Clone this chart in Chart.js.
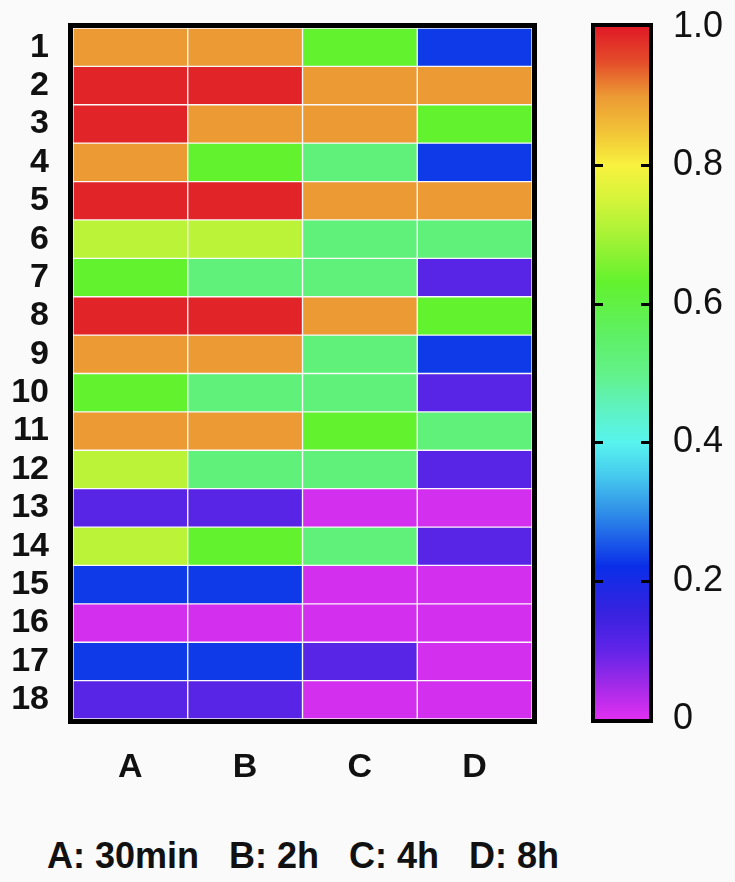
<!DOCTYPE html>
<html>
<head>
<meta charset="utf-8">
<script src="https://cdn.jsdelivr.net/npm/chart.js@4.4.1/dist/chart.umd.min.js"></script>
<style>
  html, body { margin: 0; padding: 0; background: #fafafa; }
  body { width: 735px; height: 882px; position: relative; overflow: hidden; }
  #heat { position: absolute; left: 0; top: 0; }
  #bar  { position: absolute; left: 560px; top: 0; }
  #note {
    position: absolute; left: 47px; top: 836px;
    font: bold 36px "Liberation Sans", Arial, sans-serif; color: #111;
    white-space: pre; line-height: 40px;
  }
</style>
</head>
<body>
<canvas id="heat" width="560" height="800"></canvas>
<canvas id="bar" width="175" height="800"></canvas>
<div id="note">A: 30min   B: 2h   C: 4h   D: 8h</div>

<script>
/* ── Données ─────────────────────────────────────────────────── */
const rowLabels = ['1','2','3','4','5','6','7','8','9','10','11','12','13','14','15','16','17','18'];
const colLabels = ['A', 'B', 'C', 'D'];

// une valeur (0–1) par ligne, pour chaque colonne
const valuesA = [0.90, 0.99, 0.99, 0.90, 0.99, 0.72, 0.63, 0.99, 0.90, 0.63, 0.90, 0.72, 0.11, 0.72, 0.23, 0.01, 0.23, 0.11];
const valuesB = [0.90, 0.99, 0.90, 0.63, 0.99, 0.72, 0.52, 0.99, 0.90, 0.52, 0.90, 0.52, 0.11, 0.63, 0.23, 0.01, 0.23, 0.11];
const valuesC = [0.63, 0.90, 0.90, 0.52, 0.90, 0.52, 0.52, 0.90, 0.52, 0.52, 0.63, 0.52, 0.01, 0.52, 0.01, 0.01, 0.11, 0.01];
const valuesD = [0.23, 0.90, 0.63, 0.23, 0.90, 0.52, 0.11, 0.63, 0.23, 0.11, 0.52, 0.11, 0.01, 0.11, 0.01, 0.01, 0.01, 0.01];

const barTicks = [0, 0.2, 0.4, 0.6, 0.8, 1.0];

/* ── Palette (arc-en-ciel magenta → rouge) ─────────────────────── */
const stopValues = [0, 0.05, 0.1, 0.15, 0.22, 0.3, 0.35, 0.4, 0.45, 0.5, 0.55, 0.63, 0.7, 0.75, 0.8, 0.85, 0.9, 0.95, 1.0];
const stopColors = ['#e030f0', '#a02ae8', '#6024e8', '#3a22e0', '#0a2ee8', '#3090e8', '#45c8ee', '#58f4ee', '#5ff2c0',
                    '#62f288', '#5ef068', '#62f22e', '#a8f236', '#d4f43a', '#f8f23e', '#f2c237', '#ec9a34', '#e44c2a', '#e01a26'];

function hex(c) { return [1, 3, 5].map(i => parseInt(c.slice(i, i + 2), 16)); }
function colorFor(v) {
  for (let i = 1; i < stopValues.length; i++) {
    if (v <= stopValues[i]) {
      const t = (v - stopValues[i - 1]) / (stopValues[i] - stopValues[i - 1]);
      const a = hex(stopColors[i - 1]), b = hex(stopColors[i]);
      const m = a.map((x, k) => Math.round(x + (b[k] - x) * t));
      return `rgb(${m[0]},${m[1]},${m[2]})`;
    }
  }
  return stopColors[stopColors.length - 1];
}

Chart.defaults.font.family = '"Liberation Sans", Arial, sans-serif';
Chart.defaults.color = '#111';
Chart.defaults.animation = false;

/* pas de marge automatique ajoutée par les étiquettes */
const noPad = s => { s.paddingTop = 0; s.paddingBottom = 0; s.paddingLeft = 0; s.paddingRight = 0; };

/* cadre noir épais autour de la zone de tracé */
const frame = {
  id: 'frame',
  afterDatasetsDraw(chart, args, opts) {
    const { ctx, chartArea: a } = chart;
    const w = opts.width || 5;
    ctx.save();
    ctx.strokeStyle = '#000';
    ctx.lineWidth = w;
    ctx.strokeRect(a.left - w / 2, a.top - w / 2, a.width + w, a.height + w);
    ctx.restore();
  },
};

/* ── 1. Carte de chaleur (barres horizontales empilées) ───────── */
const columns = [valuesA, valuesB, valuesC, valuesD];

new Chart(document.getElementById('heat'), {
  type: 'bar',
  data: {
    labels: rowLabels,
    datasets: columns.map((vals, i) => ({
      label: colLabels[i],
      data: vals.map(() => 1),
      backgroundColor: vals.map(colorFor),
      borderColor: 'rgba(255,255,255,0.09)',
      borderWidth: 1,
      borderSkipped: false,
      barPercentage: 1,
      categoryPercentage: 1,
    })),
  },
  options: {
    indexAxis: 'y',
    responsive: false,
    layout: { padding: { top: 28, right: 28, left: 0, bottom: 0 } },
    plugins: { legend: { display: false }, tooltip: { enabled: false }, frame: { width: 5 } },
    scales: {
      x: {
        type: 'linear', stacked: true, min: 0, max: 4,
        grid: { display: false }, border: { display: false },
        afterBuildTicks: s => { s.ticks = colLabels.map((_, i) => ({ value: i + 0.5 })); },
        afterFit: s => { s.height = 81; noPad(s); },
        ticks: {
          padding: 20,
          font: { size: 34, weight: 'bold' },
          callback: v => colLabels[Math.floor(v)],
        },
      },
      y: {
        stacked: true,
        grid: { display: false, drawTicks: false }, border: { display: false },
        afterFit: s => { s.width = 73; noPad(s); },
        ticks: { padding: 24, autoSkip: false, font: { size: 34, weight: 'bold' } },
      },
    },
  },
  plugins: [frame],
});

/* ── 2. Barre de couleurs ─────────────────────────────────────── */
const colorTicks = {
  id: 'colorTicks',
  afterDatasetsDraw(chart) {
    const { ctx, chartArea: a, scales: { y } } = chart;
    ctx.save();
    ctx.strokeStyle = '#000';
    ctx.lineWidth = 3;
    barTicks.slice(1, -1).forEach(v => {
      const py = Math.round(y.getPixelForValue(v)) + 0.5;
      ctx.beginPath();
      ctx.moveTo(a.left, py); ctx.lineTo(a.left + 8, py);
      ctx.moveTo(a.right - 8, py); ctx.lineTo(a.right, py);
      ctx.stroke();
    });
    ctx.restore();
  },
};

new Chart(document.getElementById('bar'), {
  type: 'bar',
  data: {
    labels: [''],
    datasets: [{
      data: [[0, 1]],
      barPercentage: 1,
      categoryPercentage: 1,
      borderWidth: 0,
      backgroundColor: ctx => {
        const { chart } = ctx;
        if (!chart.chartArea) return stopColors[0];
        const y = chart.scales.y;
        const g = chart.ctx.createLinearGradient(0, y.getPixelForValue(0), 0, y.getPixelForValue(1));
        stopValues.forEach((v, i) => g.addColorStop(v, stopColors[i]));
        return g;
      },
    }],
  },
  options: {
    responsive: false,
    layout: { padding: { top: 27, left: 35, right: 0, bottom: 81 } },
    plugins: { legend: { display: false }, tooltip: { enabled: false }, frame: { width: 4 } },
    scales: {
      x: { display: false },
      y: {
        position: 'right', min: 0, max: 1,
        grid: { display: false, drawTicks: false }, border: { display: false },
        afterBuildTicks: s => { s.ticks = barTicks.map(v => ({ value: v })); },
        afterFit: s => { s.width = 86; noPad(s); },
        ticks: {
          padding: 24,
          font: { size: 36 },
          callback: v => (v === 0 ? '0' : v.toFixed(1)),
        },
      },
    },
  },
  plugins: [frame, colorTicks],
});
</script>
</body>
</html>
